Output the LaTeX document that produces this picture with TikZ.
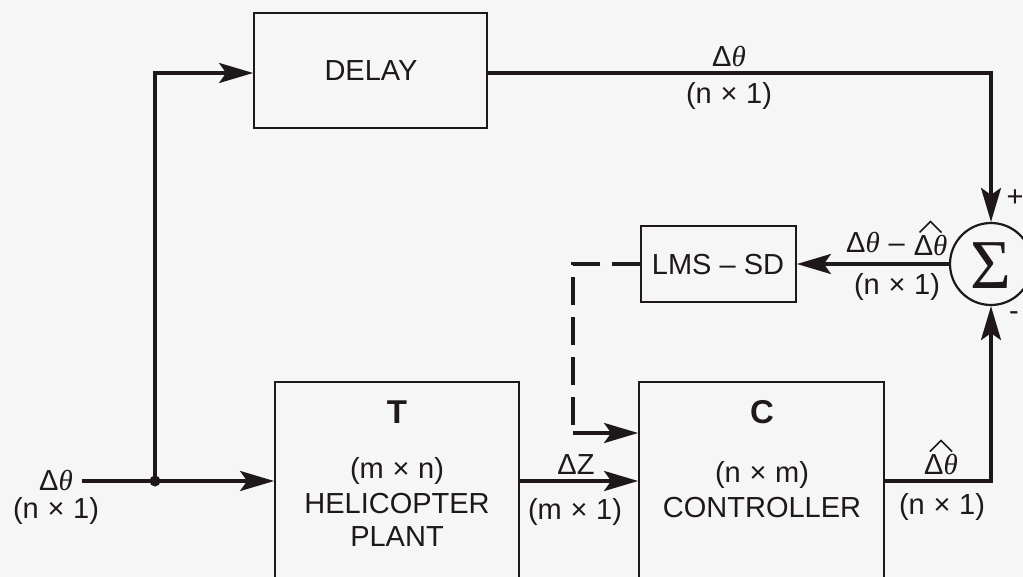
\documentclass[tikz,border=0pt]{standalone}
\usepackage{fontspec}
\setmainfont{Liberation Sans}
\newfontfamily\thfont{Liberation Serif}
\usetikzlibrary{arrows.meta}
\definecolor{bg}{RGB}{246,246,246}
\definecolor{ink}{RGB}{30,24,24}
\newcommand{\dth}{Δ{\thfont\itshape θ}}
\begin{document}
\begin{tikzpicture}[x=1pt,y=-1pt,
  blk/.style={draw=ink, line width=1.8pt, inner sep=0pt},
  conn/.style={draw=ink, line width=3.2pt, -{Stealth[length=34pt,width=20pt,inset=7pt]}},
  dashline/.style={draw=ink, line width=3.2pt, dash pattern=on 28pt off 12pt},
  txt/.style={font=\fontsize{29}{34}\selectfont, inner sep=0pt, text=ink},
  big/.style={font=\fontsize{33}{36}\selectfont\bfseries, inner sep=0pt, text=ink},
  hat/.style={draw=ink, line width=1.6pt}
]
\useasboundingbox (0,0) rectangle (1023,577);
\fill[bg] (0,0) rectangle (1023,577);
\clip (0,0) rectangle (1023,577);

% blocks
\node[blk, minimum width=233pt, minimum height=115pt] (delay) at (370.5,70.5) {};
\node[txt] at (371,71) {DELAY};
\node[blk, minimum width=155pt, minimum height=76pt] (lms) at (718.5,264) {};
\node[txt] at (718,265) {LMS – SD};
\node[blk, minimum width=244pt, minimum height=200pt] (T) at (397,482) {};
\node[big] at (397,412) {T};
\node[txt] at (397,471) {(m\hspace{0.3em}×\hspace{0.3em}n)};
\node[txt] at (397,504) {HELICOPTER};
\node[txt] at (397,537) {PLANT};
\node[blk, minimum width=245pt, minimum height=200pt] (C) at (761.5,482) {};
\node[big] at (762,412) {C};
\node[txt] at (762,475) {(n\hspace{0.3em}×\hspace{0.3em}m)};
\node[txt] at (762,508) {CONTROLLER};

% summing junction
\node[draw=ink, line width=2.2pt, circle, minimum size=82pt, inner sep=0pt] (sum) at (991,264) {};
\node[inner sep=0pt, text=ink, font=\thfont\fontsize{70}{70}\selectfont] at (991,266) {Σ};
\node[txt] at (1015,198) {+};
\node[txt] at (1014,316) {-};

% input
\coordinate (in) at (82,481);
\coordinate (j) at (155,481);
\node[txt] at (56,481) {\dth};
\node[txt] at (56,511) {(n\hspace{0.3em}×\hspace{0.3em}1)};
\fill[ink] (j) circle (5.5pt);
\draw[conn] (in) -- (T.west |- in);
\draw[conn] (j) |- (delay.west |- 0,73);

% delay to sum
\draw[conn] (delay.east |- 0,73) -| (sum.north);
\node[txt] at (729,57) {\dth};
\node[txt] at (729,96) {(n\hspace{0.3em}×\hspace{0.3em}1)};

% sum to LMS
\draw[conn] (sum.west) -- (lms.east);
\node[txt, anchor=west] (e1) at (846,246) {\dth\hspace{0.3em}–\hspace{0.3em}\strut};
\node[txt, anchor=west] (e2) at (e1.east) {\dth};
\draw[hat] ([yshift=3pt]e2.north) ++(-11,0) -- ++(11,-11) -- ++(11,11);
\node[txt] at (897,287) {(n\hspace{0.3em}×\hspace{0.3em}1)};

% LMS to C dashed
\coordinate (dc) at (573,433);
\draw[dashline] (lms.west) -| (dc);
\draw[conn] (dc) -- (C.west |- dc);

% T to C
\draw[conn] (T.east |- 0,481) -- (C.west |- 0,481);
\node[txt] at (576,465) {ΔZ};
\node[txt] at (575,512) {(m\hspace{0.3em}×\hspace{0.3em}1)};

% C to sum
\draw[conn] (C.east |- 0,481) -| (sum.south);
\node[txt] (o1) at (941,465) {\dth};
\draw[hat] ([yshift=3pt]o1.north) ++(-11,0) -- ++(11,-11) -- ++(11,11);
\node[txt] at (942,507) {(n\hspace{0.3em}×\hspace{0.3em}1)};
\end{tikzpicture}
\end{document}
